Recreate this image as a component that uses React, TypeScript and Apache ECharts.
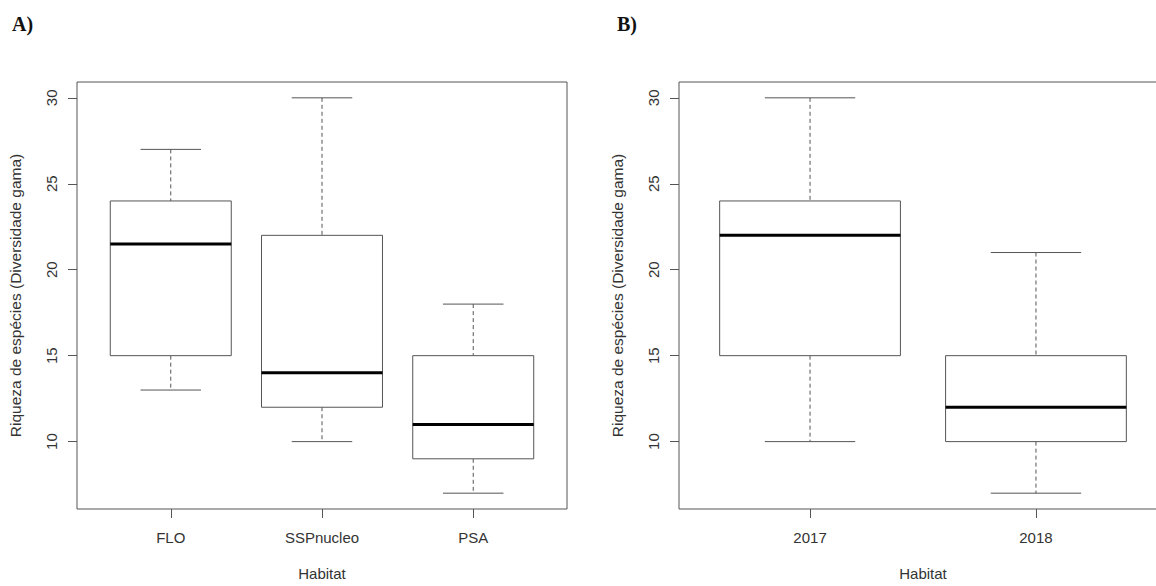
import React, { useEffect, useRef } from "react";
import * as echarts from "echarts";

const habitatCategories = ["FLO", "SSPnucleo", "PSA"];
const habitatMin = [13, 10, 7];
const habitatQ1 = [15, 12, 9];
const habitatMedian = [21.5, 14, 11];
const habitatQ3 = [24, 22, 15];
const habitatMax = [27, 30, 18];

const yearCategories = ["2017", "2018"];
const yearMin = [10, 7];
const yearQ1 = [15, 10];
const yearMedian = [22, 12];
const yearQ3 = [24, 15];
const yearMax = [30, 21];

const yTicks = [10, 15, 20, 25, 30];

const FONT = "'Liberation Sans', Arial, Helvetica, sans-serif";
const TEXT = "#333";
const LINE = "#555";

function buildRows(mins: number[], q1: number[], med: number[], q3: number[], maxs: number[]) {
  return mins.map((m, i) => [i + 1, m, q1[i], med[i], q3[i], maxs[i]]);
}

function renderBox(params: any, api: any) {
  const x = api.value(0);
  const vMin = api.value(1);
  const vQ1 = api.value(2);
  const vMed = api.value(3);
  const vQ3 = api.value(4);
  const vMax = api.value(5);
  const half = api.size([0.4, 0])[0];
  const capHalf = api.size([0.2, 0])[0];
  const pMin = api.coord([x, vMin]);
  const pQ1 = api.coord([x, vQ1]);
  const pMed = api.coord([x, vMed]);
  const pQ3 = api.coord([x, vQ3]);
  const pMax = api.coord([x, vMax]);
  const cx = pMed[0];
  const dashed = { stroke: LINE, lineWidth: 1, lineDash: [4, 3] };
  const solid = { stroke: LINE, lineWidth: 1 };
  return {
    type: "group",
    children: [
      { type: "line", shape: { x1: cx, y1: pMax[1], x2: cx, y2: pQ3[1] }, style: dashed },
      { type: "line", shape: { x1: cx, y1: pQ1[1], x2: cx, y2: pMin[1] }, style: dashed },
      { type: "line", shape: { x1: cx - capHalf, y1: pMax[1], x2: cx + capHalf, y2: pMax[1] }, style: solid },
      { type: "line", shape: { x1: cx - capHalf, y1: pMin[1], x2: cx + capHalf, y2: pMin[1] }, style: solid },
      {
        type: "rect",
        shape: { x: cx - half, y: pQ3[1], width: 2 * half, height: pQ1[1] - pQ3[1] },
        style: { fill: "#fff", stroke: LINE, lineWidth: 1 },
      },
      {
        type: "line",
        shape: { x1: cx - half, y1: pMed[1], x2: cx + half, y2: pMed[1] },
        style: { stroke: "#000", lineWidth: 3 },
      },
    ],
  };
}

export default function App() {
  const ref = useRef<HTMLDivElement>(null);

  useEffect(() => {
    document.body.style.margin = "0";
    if (!ref.current) return;
    const chart = echarts.init(ref.current, null, { renderer: "svg" });

    const xAxisCommon = (cats: string[], min: number, max: number, idx: number) => ({
      type: "value",
      gridIndex: idx,
      min,
      max,
      splitLine: { show: false },
      axisLine: { show: false },
      axisTick: {
        show: true,
        length: 9,
        lineStyle: { color: LINE },
        customValues: cats.map((_, i) => i + 1),
      },
      axisLabel: {
        show: true,
        color: TEXT,
        fontFamily: FONT,
        fontSize: 15,
        margin: 21,
        customValues: cats.map((_, i) => i + 1),
        formatter: (v: number) => cats[Math.round(v) - 1] ?? "",
      },
      name: "Habitat",
      nameLocation: "middle",
      nameGap: 57,
      nameTextStyle: { color: TEXT, fontFamily: FONT, fontSize: 15 },
    });

    const yAxisCommon = (idx: number) => ({
      type: "value",
      gridIndex: idx,
      min: 6.08,
      max: 30.92,
      splitLine: { show: false },
      axisLine: { show: false },
      axisTick: {
        show: true,
        length: 9,
        lineStyle: { color: LINE },
        customValues: yTicks,
      },
      axisLabel: {
        show: true,
        color: TEXT,
        fontFamily: FONT,
        fontSize: 15,
        rotate: 90,
        margin: 18,
        customValues: yTicks,
      },
      name: "Riqueza de espécies (Diversidade gama)",
      nameLocation: "middle",
      nameRotate: 90,
      nameGap: 54,
      nameTextStyle: { color: TEXT, fontFamily: FONT, fontSize: 15.5 },
    });

    chart.setOption({
      animation: false,
      backgroundColor: "#fff",
      grid: [
        { left: 77, top: 82, width: 490, height: 435, show: true, borderColor: LINE, borderWidth: 1 },
        { left: 679, top: 82, width: 488, height: 435, show: true, borderColor: LINE, borderWidth: 1 },
      ],
      xAxis: [
        xAxisCommon(habitatCategories, 0.38, 3.62, 0),
        xAxisCommon(yearCategories, 0.42, 2.58, 1),
      ],
      yAxis: [yAxisCommon(0), yAxisCommon(1)],
      graphic: [
        {
          type: "text",
          left: 12,
          top: 14,
          style: { text: "A)", font: "bold 20px 'Liberation Serif', 'Times New Roman', serif", fill: "#111" },
        },
        {
          type: "text",
          left: 617,
          top: 14,
          style: { text: "B)", font: "bold 20px 'Liberation Serif', 'Times New Roman', serif", fill: "#111" },
        },
      ],
      series: [
        {
          type: "custom",
          xAxisIndex: 0,
          yAxisIndex: 0,
          renderItem: renderBox,
          encode: { x: 0, y: [1, 2, 3, 4, 5] },
          data: buildRows(habitatMin, habitatQ1, habitatMedian, habitatQ3, habitatMax),
          clip: false,
        },
        {
          type: "custom",
          xAxisIndex: 1,
          yAxisIndex: 1,
          renderItem: renderBox,
          encode: { x: 0, y: [1, 2, 3, 4, 5] },
          data: buildRows(yearMin, yearQ1, yearMedian, yearQ3, yearMax),
          clip: false,
        },
      ],
    });

    return () => chart.dispose();
  }, []);

  return (
    <div style={{ position: "absolute", left: 0, top: 0, width: 1156, height: 586, overflow: "hidden" }}>
      <div ref={ref} style={{ width: 1190, height: 586 }} />
    </div>
  );
}
